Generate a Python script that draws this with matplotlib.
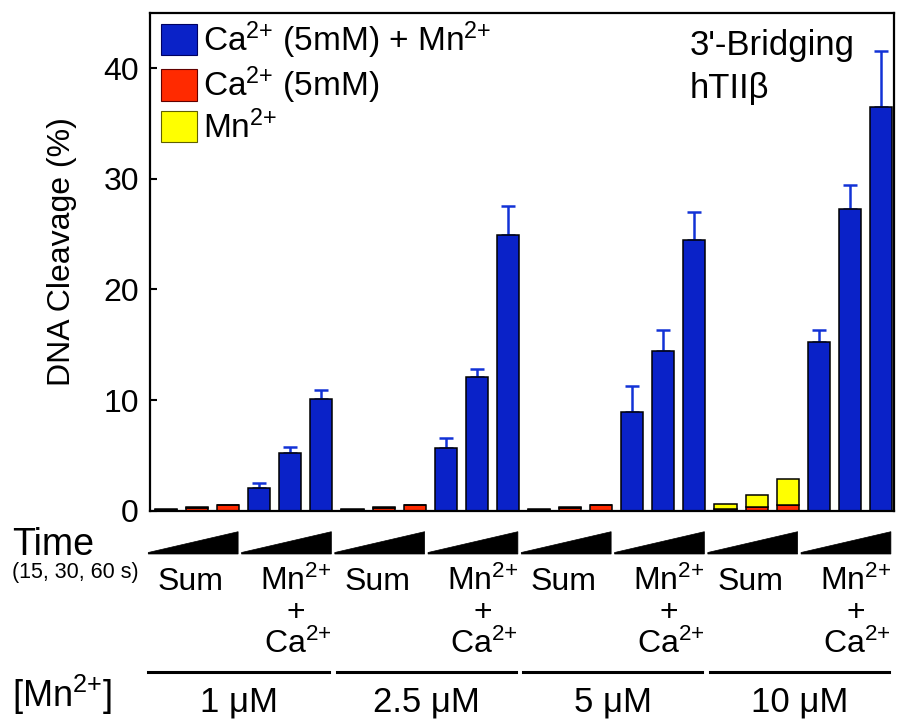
import matplotlib
matplotlib.use("Agg")
import matplotlib.pyplot as plt
from matplotlib.patches import Patch, Polygon
from matplotlib.lines import Line2D
from matplotlib.transforms import blended_transform_factory
import numpy as np

plt.rcParams["font.family"] = ["Liberation Sans", "DejaVu Sans"]
plt.rcParams["mathtext.fontset"] = "custom"
plt.rcParams["mathtext.rm"] = "Liberation Sans"
plt.rcParams["mathtext.it"] = "Liberation Sans"
plt.rcParams["mathtext.default"] = "regular"

# ---- data -------------------------------------------------------------
concentrations = ["1 μM", "2.5 μM", "5 μM", "10 μM"]
times_s = [15, 30, 60]
# DNA cleavage (%) per Mn2+ concentration, at 15, 30 and 60 s
ca_alone = [[0.10, 0.28, 0.48],
            [0.10, 0.28, 0.48],
            [0.10, 0.28, 0.48],
            [0.13, 0.30, 0.48]]
mn_alone = [[0.05, 0.05, 0.05],
            [0.05, 0.05, 0.05],
            [0.05, 0.05, 0.05],
            [0.45, 1.15, 2.42]]
ca_plus_mn = [[2.02, 5.18, 10.06],
              [5.69, 12.10, 24.92],
              [8.94, 14.42, 24.44],
              [15.26, 27.24, 36.45]]
ca_plus_mn_err = [[0.45, 0.54, 0.81],
                  [0.84, 0.69, 2.59],
                  [2.29, 1.87, 2.59],
                  [1.06, 2.17, 5.12]]

ION = r"$^{2{+}}$"
legend_labels = ["Ca" + ION + " (5mM) + Mn" + ION, "Ca" + ION + " (5mM)", "Mn" + ION]

BLUE = "#0a22c8"
RED = "#ff2a00"
YELLOW = "#ffff00"

# ---- figure -----------------------------------------------------------
W, H = 897, 719
fig = plt.figure(figsize=(W / 100, H / 100), dpi=100)
ax = fig.add_axes([150 / W, 1 - 510.7 / H, 744 / W, (510.7 - 13.3) / H])

bw = 0.71
ew = 1.1
n_groups = len(concentrations)
for g in range(n_groups):
    sum_x = 6 * g + np.arange(3)
    comb_x = 6 * g + 3 + np.arange(3)
    ax.bar(sum_x, ca_alone[g], width=bw, color=RED, edgecolor="black", linewidth=ew, zorder=2)
    ax.bar(sum_x, mn_alone[g], bottom=ca_alone[g], width=bw, color=YELLOW,
           edgecolor="black", linewidth=ew, zorder=2)
    ax.bar(comb_x, ca_plus_mn[g], width=bw, color=BLUE, edgecolor="black",
           linewidth=ew, zorder=2)
    ax.errorbar(comb_x, ca_plus_mn[g],
                yerr=[np.zeros(3), ca_plus_mn_err[g]],
                fmt="none", ecolor="#1232d6", elinewidth=1.8, capsize=5,
                capthick=1.8, zorder=1)

ax.set_xlim(-0.515, 23.42)
ax.set_ylim(0, 44.95)
ax.set_xticks([])
ax.set_yticks([0, 10, 20, 30, 40])
ax.tick_params(axis="y", direction="in", length=5, width=1.5, labelsize=23, pad=8)
for sp in ax.spines.values():
    sp.set_linewidth(1.6)
ax.set_ylabel("DNA Cleavage (%)", fontsize=23, labelpad=19)
ax.yaxis.label.set_y(0.52)

handles = [Patch(facecolor=BLUE, edgecolor="#000060", linewidth=0.8),
           Patch(facecolor=RED, edgecolor="#600000", linewidth=0.8),
           Patch(facecolor=YELLOW, edgecolor="#606000", linewidth=0.8)]
ax.legend(handles, legend_labels, loc="upper left",
          bbox_to_anchor=(11 / 744, 1 - 6 / 497.4), borderaxespad=0, borderpad=0,
          frameon=False, fontsize=24, handlelength=1.08, handleheight=1.08,
          handletextpad=0.17, labelspacing=0.12)

fig.text(690 / W, 1 - 55 / H, "3'-Bridging", fontsize=25, ha="left", va="baseline")
fig.text(690 / W, 1 - 98 / H, "hTIIβ", fontsize=25, ha="left", va="baseline")

# ---- annotations below the axis --------------------------------------
tr = blended_transform_factory(ax.transData, fig.transFigure)


def fy(px):
    return 1 - px / H


fig.text(12 / W, fy(555), "Time", fontsize=27, ha="left", va="baseline")
fig.text(12 / W, fy(578), "(" + ", ".join(str(t) for t in times_s) + " s)",
         fontsize=15.5, ha="left", va="baseline")
fig.text(12 / W, fy(707), "[Mn" + ION + "]", fontsize=26, ha="left", va="baseline")

for k in range(2 * n_groups):
    x0, x1 = 3 * k - 0.57, 3 * k + 2.32
    tri = Polygon([(x0, fy(554)), (x1, fy(554)), (x1, fy(531.7)), (x0, fy(552.5))],
                  closed=True, facecolor="black", edgecolor="black", linewidth=0.5,
                  transform=tr, clip_on=False)
    ax.add_patch(tri)

for g in range(n_groups):
    ax.text(6 * g - 0.57 + 0.3, fy(590), "Sum", fontsize=23, ha="left",
            va="baseline", transform=tr)
    cx = 6 * g + 4.18
    ax.text(cx, fy(590), "Mn" + ION, fontsize=23, ha="center", va="baseline", transform=tr)
    ax.text(cx, fy(621), "+", fontsize=23, ha="center", va="baseline", transform=tr)
    ax.text(cx + 0.05, fy(653), "Ca" + ION, fontsize=23, ha="center", va="baseline", transform=tr)
    lx0 = 6 * g - 0.5 - (0.08 if g == 0 else 0)
    lx1 = 6 * g + 5.25
    ax.add_line(Line2D([lx0, lx1], [fy(672.3), fy(672.3)], color="black", linewidth=2.2,
                       transform=tr, clip_on=False))
    ax.text((lx0 + lx1) / 2, fy(711), concentrations[g], fontsize=25, ha="center",
            va="baseline", transform=tr)

fig.savefig("out.png", dpi=100)
